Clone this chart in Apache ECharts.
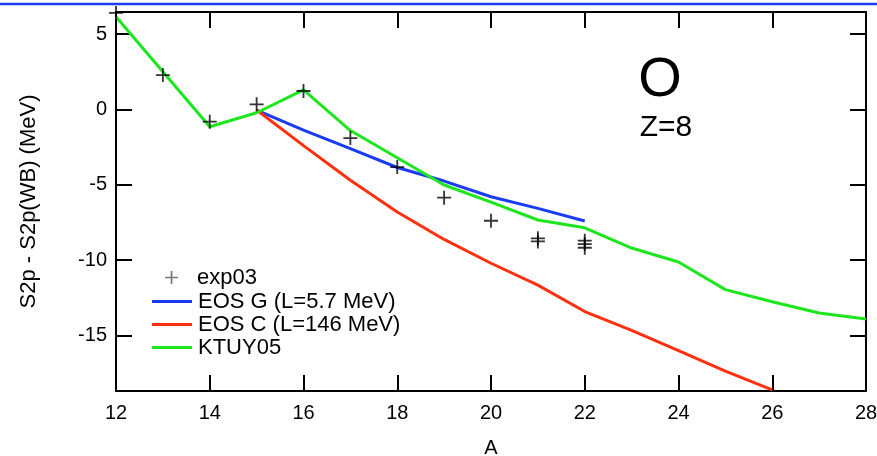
<!DOCTYPE html>
<html>
<head>
<meta charset="utf-8">
<script src="https://cdn.jsdelivr.net/npm/echarts@6/dist/echarts.min.js"></script>
<style>html,body{margin:0;padding:0;background:#fff;}#c{width:877px;height:456px;}</style>
</head>
<body>
<div id="c"></div>
<script>
// ---- data ----
const xTicks = [12, 14, 16, 18, 20, 22, 24, 26, 28];
const yTicks = [-15, -10, -5, 0, 5];
const expA   = [12, 13, 14, 15, 16, 17, 18, 19, 20, 21, 21, 22, 22, 22];
const expVal = [6.4, 2.28, -0.81, 0.34, 1.22, -1.9, -3.82, -5.85, -7.38, -8.55, -8.75, -8.7, -8.93, -9.17];
const eosGA   = [15, 16, 17, 18, 19, 20, 21, 22];
const eosGVal = [-0.04, -1.37, -2.6, -3.85, -4.75, -5.79, -6.56, -7.4];
const eosCA   = [15, 16, 17, 18, 19, 20, 21, 22, 23, 24, 25, 26];
const eosCVal = [-0.04, -2.4, -4.7, -6.8, -8.62, -10.2, -11.65, -13.4, -14.65, -16.0, -17.35, -18.6];
const ktuyA   = [12, 13, 14, 15, 16, 17, 18, 19, 20, 21, 22, 23, 24, 25, 26, 27, 28];
const ktuyVal = [6.15, 2.5, -1.15, -0.22, 1.3, -1.4, -3.2, -5.01, -6.15, -7.33, -7.85, -9.19, -10.12, -11.95, -12.75, -13.5, -13.9];
const seriesNames = ['exp03', 'EOS G (L=5.7 MeV)', 'EOS C (L=146 MeV)', 'KTUY05'];

const zip = (a, b) => a.map((v, i) => [v, b[i]]);
const FONT = '"Liberation Sans", Arial, Helvetica, sans-serif';
const plus = 'path://M-1,-0.13H1V0.13H-1Z M-0.13,-1H0.13V1H-0.13Z';
const axisLine = { show: true, onZero: false, lineStyle: { color: '#000', width: 2 } };
const tick = (show) => ({ show: show, inside: true, length: 16, lineStyle: { color: '#000', width: 2 } });

const chart = echarts.init(document.getElementById('c'), null, { renderer: 'canvas' });
chart.setOption({
  animation: false,
  backgroundColor: '#fff',
  textStyle: { fontFamily: FONT },
  grid: { left: 116, right: 11, top: 12, bottom: 65, containLabel: false, outerBoundsMode: 'none' },
  xAxis: [
    { type: 'value', min: 12, max: 28, interval: 2, position: 'bottom',
      axisLine: axisLine, axisTick: tick(true), splitLine: { show: false },
      axisLabel: { color: '#000', fontSize: 20, fontFamily: FONT, margin: 12 },
      name: 'A', nameLocation: 'middle', nameGap: 47,
      nameTextStyle: { color: '#000', fontSize: 20, fontFamily: FONT } },
    { type: 'value', min: 12, max: 28, interval: 2, position: 'top',
      axisLine: axisLine, axisTick: tick(true), splitLine: { show: false },
      axisLabel: { show: false } }
  ],
  yAxis: [
    { type: 'value', min: -18.67, max: 6.46, position: 'left',
      axisLine: axisLine, splitLine: { show: false },
      axisTick: Object.assign(tick(true), { customValues: yTicks }),
      axisLabel: { color: '#000', fontSize: 20, fontFamily: FONT, margin: 9, customValues: yTicks },
      name: 'S2p - S2p(WB) (MeV)', nameLocation: 'middle', nameGap: 76, nameRotate: 90,
      nameTextStyle: { color: '#000', fontSize: 22, fontFamily: FONT } },
    { type: 'value', min: -18.67, max: 6.46, position: 'right',
      axisLine: axisLine, splitLine: { show: false },
      axisTick: Object.assign(tick(true), { customValues: yTicks }),
      axisLabel: { show: false } }
  ],
  legend: [
    { data: [{ name: seriesNames[0], icon: plus, itemStyle: { color: '#555' } }],
      orient: 'vertical', left: 160, top: 261, itemWidth: 13, itemHeight: 13, itemGap: 0,
      textStyle: { color: '#000', fontSize: 22, fontFamily: FONT, lineHeight: 23, padding: [0, 0, 0, 14] } },
    { data: [seriesNames[1], seriesNames[2], seriesNames[3]],
      orient: 'vertical', left: 147, top: 285, icon: 'rect', itemWidth: 40, itemHeight: 3, itemGap: 0,
      textStyle: { color: '#000', fontSize: 22, fontFamily: FONT, lineHeight: 23, padding: [0, 0, 0, 1] } }
  ],
  graphic: [
    { type: 'line', shape: { x1: 0, y1: 4, x2: 877, y2: 4 }, style: { stroke: '#1a3cf0', lineWidth: 2.5 }, silent: true },
    { type: 'text', x: 660, y: 81, style: { text: 'O', fontSize: 56, fontFamily: FONT, fill: '#000', align: 'center', verticalAlign: 'middle' } },
    { type: 'text', x: 666, y: 128, style: { text: 'Z=8', fontSize: 30, fontFamily: FONT, fill: '#000', align: 'center', verticalAlign: 'middle' } }
  ],
  series: [
    { name: seriesNames[1], type: 'line', data: zip(eosGA, eosGVal), showSymbol: false, symbol: 'none',
      lineStyle: { color: '#1a3cf0', width: 3 }, itemStyle: { color: '#1a3cf0' }, z: 3 },
    { name: seriesNames[2], type: 'line', data: zip(eosCA, eosCVal), showSymbol: false, symbol: 'none',
      lineStyle: { color: '#ff3010', width: 3 }, itemStyle: { color: '#ff3010' }, z: 3 },
    { name: seriesNames[3], type: 'line', data: zip(ktuyA, ktuyVal), showSymbol: false, symbol: 'none',
      lineStyle: { color: '#1ee61e', width: 3 }, itemStyle: { color: '#1ee61e' }, z: 4 },
    { name: seriesNames[0], type: 'scatter', data: zip(expA, expVal), symbol: plus, symbolSize: 14,
      itemStyle: { color: '#000' }, clip: false, z: 5 }
  ]
});
</script>
</body>
</html>
